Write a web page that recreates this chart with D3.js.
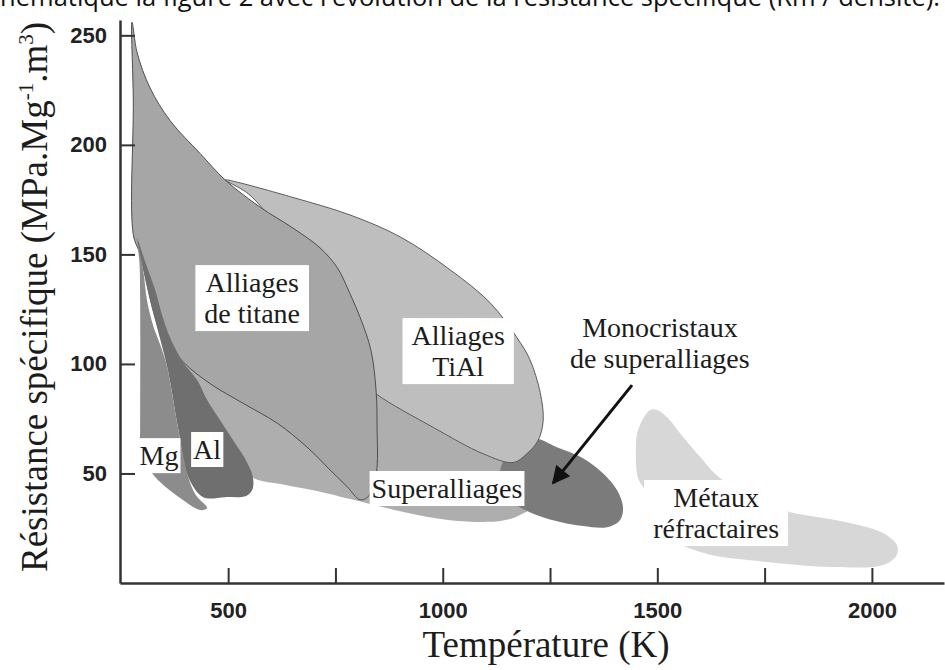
<!DOCTYPE html>
<html>
<head>
<meta charset="utf-8">
<script src="https://cdn.jsdelivr.net/npm/d3@7/dist/d3.min.js"></script>
<style>
  body { margin: 0; background: #fff; }
  svg { display: block; }
</style>
</head>
<body>
<div id="wrapper"></div>
<script>
// Zones : [température (K), résistance spécifique]
const superalliages = [
  [411, 106], [668, 92.6], [901, 83.5], [1087, 65], [1169, 58], [1203, 51.5],
  [1227, 38], [1180, 31], [1134, 28.3], [1017, 28.7], [901, 32.8], [784, 38.3],
  [707, 42], [628, 45], [558, 48], [493, 60.7], [400, 88]
]
const monocristaux = [
  [1215, 66], [1266, 62], [1327, 57], [1374, 50], [1406, 42.4], [1420, 34.7],
  [1413, 28.7], [1383, 25.5], [1327, 26], [1250, 29], [1187, 33.8], [1145, 40],
  [1134, 51.5], [1169, 63]
]
const titaneAl = [
  [493, 184], [512, 183.4], [651, 176], [784, 168], [901, 158], [1017, 143],
  [1110, 128], [1173, 112], [1203, 102], [1227, 87], [1234, 74], [1222, 65],
  [1196, 59], [1164, 55], [1094, 59], [978, 71], [847, 86], [807, 93],
  [668, 147], [551, 177]
]
const titane = [
  [276, 256], [288, 242], [318, 226], [365, 211], [435, 196], [493, 184],
  [575, 171.5], [651, 162], [714, 153], [754, 144], [784, 132], [810, 120],
  [833, 106], [845, 87], [847, 70], [847, 53], [838, 44], [824, 39],
  [807, 38], [777, 44], [738, 51.5], [684, 62], [614, 73], [535, 82],
  [458, 91], [395, 101], [342, 115], [295, 150], [279, 159], [279, 220]
]
const aluminium = [
  [288, 157.4], [307, 146.4], [330, 133.7], [346, 122.3], [365, 111.8], [395, 100.8],
  [428, 92.6], [451, 83.5], [481, 74.4], [512, 65], [544, 55], [558, 48],
  [556, 42.4], [542, 39.7], [493, 39.2], [442, 39.2], [407, 48.4], [384, 70],
  [358, 98.5], [318, 129], [295, 149.6]
]
const magnesium = [
  [286, 158.3], [288, 156.5], [302, 142.8], [311, 129], [325, 117.7], [342, 108.6],
  [358, 98.5], [370, 85.8], [384, 69.8], [407, 48.4], [425, 40], [451, 34.2],
  [435, 33.3], [388, 38.8], [342, 46], [318, 51.5], [295, 61.6], [295, 70],
  [295, 129], [293, 147]
]
const refractaires = [
  [1483, 79], [1499, 79], [1523, 75.7], [1553, 68.4], [1600, 57.5], [1646, 47.9],
  [1739, 37.9], [1809, 32.4], [1872, 30.1], [1949, 27.4], [2026, 22.8], [2058, 17.3],
  [2058, 12.8], [2026, 8.2], [1909, 7.3], [1756, 9.6], [1600, 14.1], [1506, 24.2],
  [1471, 42.4], [1455, 47.9], [1450, 60.7], [1455, 69.8]
]

const yTicks = [50, 100, 150, 200, 250]
const xTicks = [500, 750, 1000, 1250, 1500, 1750, 2000]
const xLabelled = [500, 1000, 1500, 2000]

// étiquettes : texte + point d'ancrage (T, valeur) de la première ligne
const regionLabels = [
  { lines: ["Alliages", "de titane"], at: [556, 132.8], box: true },
  { lines: ["Alliages", "TiAl"], at: [1036, 108.6], box: true },
  { lines: ["Superalliages"], at: [1010, 38.8], box: true },
  { lines: ["Mg"], at: [339, 53.8], box: true },
  { lines: ["Al"], at: [451, 56.6], box: true },
  { lines: ["Métaux", "réfractaires"], at: [1637, 34.7], box: true },
  { lines: ["Monocristaux", "de superalliages"], at: [1506, 112.2], box: false },
]
const arrowMono = [[1441, 90.3], [1257, 45.6]]

function drawChart() {
  // 1. dimensions
  const dimensions = {
    width: 945,
    height: 670,
    margin: { top: 20, right: 1, bottom: 87, left: 120 },
  }
  dimensions.boundedWidth = dimensions.width - dimensions.margin.left - dimensions.margin.right
  dimensions.boundedHeight = dimensions.height - dimensions.margin.top - dimensions.margin.bottom

  // 2. scales
  const xScale = d3.scaleLinear()
    .domain([248, 2168])
    .range([0, dimensions.boundedWidth])
  const yScale = d3.scaleLinear()
    .domain([0, 257])
    .range([dimensions.boundedHeight, 0])

  // 3. svg
  const wrapper = d3.select("#wrapper")
    .append("svg")
      .attr("width", dimensions.width)
      .attr("height", dimensions.height)
      .style("background", "#fff")

  // morceau de phrase coupé en haut de l'image (comme sur l'original)
  wrapper.append("text")
    .attr("x", 940)
    .attr("y", 6)
    .attr("text-anchor", "end")
    .style("font-family", "'Open Sans', sans-serif")
    .style("font-size", "25.5px")
    .style("fill", "#111")
    .text("schématique la figure 2 avec l'évolution de la résistance spécifique (Rm / densité).")

  const bounds = wrapper.append("g")
    .attr("transform", `translate(${dimensions.margin.left},${dimensions.margin.top})`)

  // 4. zones
  const area = d3.line()
    .x(d => xScale(d[0]))
    .y(d => yScale(d[1]))
    .curve(d3.curveCatmullRomClosed.alpha(0.5))

  const zones = [
    { data: superalliages, fill: "#aeaeae", stroke: "none" },
    { data: monocristaux, fill: "#7b7b7b", stroke: "none" },
    { data: titaneAl, fill: "#bebebe", stroke: "#5c5c5c" },
    { data: titane, fill: "#a6a6a6", stroke: "#4e4e4e" },
    { data: aluminium, fill: "#6f6f6f", stroke: "none" },
    { data: magnesium, fill: "#8c8c8c", stroke: "none" },
    { data: refractaires, fill: "#d7d7d7", stroke: "none" },
  ]
  bounds.selectAll(".zone")
    .data(zones)
    .join("path")
      .attr("class", "zone")
      .attr("d", d => area(d.data))
      .attr("fill", d => d.fill)
      .attr("stroke", d => d.stroke)
      .attr("stroke-width", 1)

  // 5. étiquettes
  const lineGap = 31
  regionLabels.forEach(lab => {
    const g = bounds.append("g")
    const cx = xScale(lab.at[0])
    const cy = yScale(lab.at[1])
    lab.lines.forEach((txt, i) => {
      g.append("text")
        .attr("x", cx)
        .attr("y", cy + i * lineGap)
        .attr("text-anchor", "middle")
        .style("font-family", "'Liberation Serif', 'Times New Roman', serif")
        .style("font-size", "28px")
        .style("fill", "#1c1c1c")
        .text(txt)
    })
    if (lab.box) {
      const bb = g.node().getBBox()
      const padX = lab.lines.length > 1 ? 9 : 2
      g.insert("rect", "text")
        .attr("x", bb.x - padX)
        .attr("y", bb.y - 2)
        .attr("width", bb.width + padX * 2)
        .attr("height", bb.height + 4)
        .attr("fill", "#fff")
    }
  })

  // flèche vers les monocristaux
  wrapper.append("defs").append("marker")
    .attr("id", "head")
    .attr("viewBox", "0 0 10 10")
    .attr("refX", 9)
    .attr("refY", 5)
    .attr("markerWidth", 7)
    .attr("markerHeight", 6)
    .attr("orient", "auto")
    .attr("markerUnits", "strokeWidth")
    .append("path")
      .attr("d", "M0,0L10,5L0,10z")
      .attr("fill", "#111")

  bounds.append("path")
    .attr("d", d3.line().x(d => xScale(d[0])).y(d => yScale(d[1]))(arrowMono))
    .attr("stroke", "#111")
    .attr("stroke-width", 3)
    .attr("fill", "none")
    .attr("marker-end", "url(#head)")

  // 6. axes
  const yAxis = d3.axisLeft(yScale)
    .tickValues(yTicks)
    .tickSize(-15)
    .tickSizeOuter(0)
    .tickPadding(13)
  const xAxis = d3.axisBottom(xScale)
    .tickValues(xTicks)
    .tickFormat(d => xLabelled.includes(d) ? d : "")
    .tickSize(-15)
    .tickSizeOuter(0)
    .tickPadding(19)

  const yAxisGroup = bounds.append("g").call(yAxis)
  const xAxisGroup = bounds.append("g")
    .attr("transform", `translate(0,${dimensions.boundedHeight})`)
    .call(xAxis)

  ;[yAxisGroup, xAxisGroup].forEach(g => {
    g.select(".domain").attr("stroke", "#333").attr("stroke-width", 2.5)
    g.selectAll(".tick line").attr("stroke", "#333").attr("stroke-width", 2)
    g.selectAll(".tick text")
      .attr("fill", "#222")
      .style("font-family", "'Liberation Sans', Arial, sans-serif")
      .style("font-size", "22px")
      .style("font-weight", "bold")
  })

  // titres des axes
  bounds.append("text")
    .attr("x", 546 - dimensions.margin.left)
    .attr("y", 657 - dimensions.margin.top)
    .attr("text-anchor", "middle")
    .style("font-family", "'Liberation Serif', 'Times New Roman', serif")
    .style("font-size", "37px")
    .style("fill", "#1c1c1c")
    .text("Température (K)")

  const yTitle = bounds.append("text")
    .attr("transform", `translate(${47 - dimensions.margin.left},${297 - dimensions.margin.top}) rotate(-90)`)
    .attr("text-anchor", "middle")
    .style("font-family", "'Liberation Serif', 'Times New Roman', serif")
    .style("font-size", "37px")
    .style("fill", "#1c1c1c")
  yTitle.append("tspan").text("Résistance spécifique (MPa.Mg")
  yTitle.append("tspan").attr("dy", -14).style("font-size", "21px").text("-1")
  yTitle.append("tspan").attr("dy", 14).text(".m")
  yTitle.append("tspan").attr("dy", -14).style("font-size", "21px").text("3")
  yTitle.append("tspan").attr("dy", 14).text(")")
}

drawChart()
</script>
</body>
</html>
